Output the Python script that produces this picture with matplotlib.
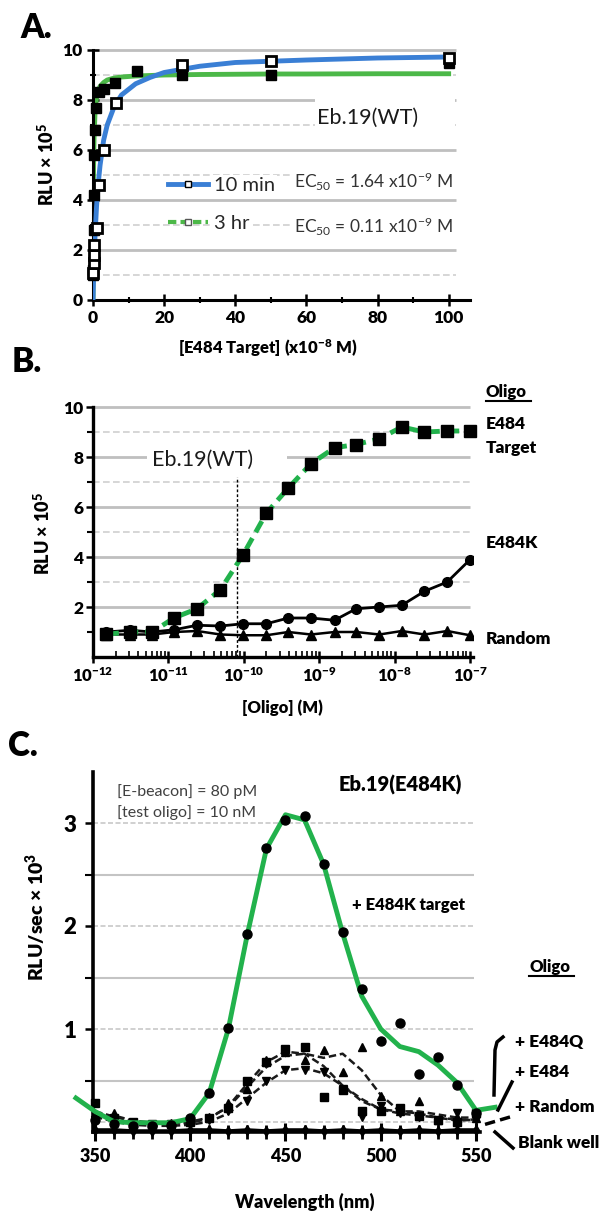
import matplotlib.pyplot as plt
from matplotlib.lines import Line2D
from matplotlib.patches import Rectangle
from matplotlib.ticker import LogLocator, NullFormatter
import numpy as np

plt.rcParams['font.family'] = ['Lato', 'DejaVu Sans']
plt.rcParams['mathtext.fontset'] = 'custom'
plt.rcParams['mathtext.rm'] = 'Lato'
plt.rcParams['mathtext.bf'] = 'Lato:heavy'
plt.rcParams['mathtext.it'] = 'Lato:italic'

W, H = 603, 1215
BLUE = '#3a7fd5'
GREEN_A = '#4cb848'
GREEN = '#22b24c'
GRID = '#bfbfbf'
GRID2 = '#d0d0d0'
BOLD = 'heavy'

# ---- panel A: dose response, linear scale
conc_10min = [0.1, 0.2, 0.3, 0.4, 1.2, 1.8, 3.2, 6.6, 25, 50, 100]
rlu_10min = [1.1, 1.5, 1.8, 2.2, 2.9, 4.6, 6.0, 7.9, 9.4, 9.55, 9.7]
conc_3hr = [0.05, 0.1, 0.15, 0.2, 0.3, 0.4, 0.6, 0.9, 1.6, 3.1, 6.25, 12.5, 25, 50, 100]
rlu_3hr = [1.0, 1.2, 1.6, 2.8, 4.2, 5.8, 6.8, 7.7, 8.3, 8.45, 8.7, 9.15, 9.0, 9.0, 9.5]
fit_x = [0, 0.05, 0.1, 0.2, 0.3, 0.6, 1, 1.5, 2, 3, 4, 6, 8, 12, 16, 20, 30, 40, 50, 60, 80, 100]
fit_10min = [0, 0.3, 0.57, 1.07, 1.5, 2.65, 3.75, 4.7, 5.4, 6.4, 7.0, 7.75, 8.2, 8.65, 8.9, 9.1,
             9.35, 9.5, 9.55, 9.6, 9.68, 9.72]
fit_3hr = [0, 2.8, 4.3, 5.8, 6.5, 7.6, 8.1, 8.4, 8.55, 8.7, 8.8, 8.88, 8.92, 8.96, 8.98, 9.0,
           9.02, 9.03, 9.04, 9.04, 9.05, 9.05]

# ---- panel B: oligo titration, log scale
oligo_conc = [1.5e-12, 3.1e-12, 6.1e-12, 1.2e-11, 2.4e-11, 4.9e-11, 9.8e-11, 2.0e-10, 3.9e-10,
              7.8e-10, 1.6e-9, 3.1e-9, 6.3e-9, 1.25e-8, 2.5e-8, 5e-8, 1e-7]
target_rlu = [0.91, 1.0, 1.0, 1.57, 1.93, 2.69, 4.09, 5.76, 6.76, 7.73, 8.37, 8.5, 8.73, 9.2, 9.0,
              9.04, 9.04]
e484k_rlu = [1.0, 1.07, 1.0, 1.09, 1.27, 1.24, 1.33, 1.33, 1.56, 1.56, 1.47, 1.93, 2.0, 2.07, 2.63,
             3.0, 3.89]
random_rlu = [0.9, 0.9, 0.9, 1.0, 1.04, 0.9, 0.87, 0.87, 1.0, 0.9, 1.0, 1.0, 0.9, 1.04, 0.9, 1.04,
              0.87]
ec50_wt = 8.1e-11

# ---- panel C: emission spectra
wavelength = [350, 360, 370, 380, 390, 400, 410, 420, 430, 440, 450, 460, 470, 480, 490, 500, 510,
              520, 530, 540, 550]
e484k_pts = [0.12, 0.08, 0.06, 0.06, 0.07, 0.14, 0.38, 1.01, 1.92, 2.76, 3.03, 3.07, 2.60, 1.94,
             1.39, 0.88, 1.06, 0.56, 0.73, 0.46, 0.18]
wl_smooth = [340, 350, 360, 370, 380, 390, 400, 410, 420, 430, 440, 450, 460, 470, 480, 490, 500,
             510, 520, 530, 540, 550, 560]
e484k_smooth = [0.33, 0.20, 0.10, 0.09, 0.09, 0.09, 0.13, 0.38, 1.00, 1.92, 2.75, 3.08, 3.03, 2.60,
                1.93, 1.32, 1.00, 0.83, 0.78, 0.65, 0.48, 0.21, 0.24]
e484q_pts = [0.15, 0.18, 0.10, 0.08, 0.09, 0.12, 0.15, 0.28, 0.42, 0.70, 0.78, 0.70, 0.80, 0.58,
             0.83, 0.35, 0.20, 0.30, 0.12, 0.15, 0.14]
e484q_smooth = [0.15, 0.16, 0.11, 0.09, 0.09, 0.10, 0.14, 0.24, 0.44, 0.63, 0.74, 0.76, 0.72, 0.76,
                0.60, 0.36, 0.20, 0.20, 0.17, 0.14, 0.14]
e484_pts = [0.28, 0.14, 0.10, 0.08, 0.08, 0.10, 0.14, 0.23, 0.50, 0.68, 0.81, 0.83, 0.34, 0.41,
            0.20, 0.20, 0.23, 0.16, 0.12, 0.10, 0.18]
e484_smooth = [0.20, 0.15, 0.10, 0.08, 0.08, 0.09, 0.13, 0.25, 0.47, 0.68, 0.78, 0.76, 0.64, 0.45,
               0.30, 0.22, 0.20, 0.18, 0.14, 0.11, 0.12]
rand_pts = [0.12, 0.10, 0.07, 0.06, 0.07, 0.08, 0.12, 0.20, 0.30, 0.50, 0.60, 0.60, 0.58, 0.42,
            0.15, 0.25, 0.18, 0.15, 0.10, 0.18, 0.12]
rand_smooth = [0.15, 0.10, 0.07, 0.06, 0.06, 0.07, 0.10, 0.18, 0.33, 0.48, 0.60, 0.62, 0.57, 0.45,
               0.32, 0.22, 0.18, 0.16, 0.14, 0.12, 0.12]
blank_pts = [0.02, 0.02, 0.01, 0.01, 0.01, 0.02, 0.02, 0.01, 0.02, 0.01, 0.02, 0.02, 0.01, 0.02,
             0.01, 0.02, 0.01, 0.02, 0.01, 0.02, 0.02]

fig = plt.figure(figsize=(W / 100, H / 100), dpi=100)


def px_axes(left, top, right, bottom):
    return fig.add_axes([left / W, 1 - bottom / H, (right - left) / W, (bottom - top) / H])


def ftext(x, y, s, **kw):
    kw.setdefault('ha', 'center')
    kw.setdefault('va', 'center')
    return fig.text(x / W, 1 - y / H, s, **kw)


def fline(xs, ys, **kw):
    fig.add_artist(Line2D(np.array(xs) / W, 1 - np.array(ys) / H, transform=fig.transFigure, **kw))


def style_spines(ax, lw):
    ax.spines['top'].set_visible(False)
    ax.spines['right'].set_visible(False)
    ax.spines['left'].set_linewidth(lw)
    ax.spines['bottom'].set_linewidth(lw)


def bold_ticks(ax):
    for lab in ax.get_xticklabels() + ax.get_yticklabels():
        lab.set_fontweight(BOLD)


# ================= A =================
axA = px_axes(93, 50, 470, 300)
axA.set_xlim(0, 106)
axA.set_ylim(0, 10)
style_spines(axA, 2.2)
axA.hlines([2, 4, 6, 8, 10], 0, 102, colors=GRID, lw=2, zorder=0, clip_on=False)
axA.hlines([1, 3, 5, 7, 9], 0, 102, colors=GRID2, lw=1.2, linestyles=(0, (4, 2)), zorder=0)
axA.add_patch(Rectangle((62.4, 6.6), 39.5, 1.6, fc='white', ec='none', zorder=1))

axA.plot(fit_x, fit_3hr, color=GREEN_A, lw=3.5, zorder=2)
axA.plot(fit_x, fit_10min, color=BLUE, lw=3.5, zorder=3)
axA.plot(conc_3hr, rlu_3hr, 's', color='black', ms=6.5, zorder=5, clip_on=False)
axA.plot(conc_10min, rlu_10min, 's', mfc='white', mec='black', mew=2, ms=7, zorder=6,
         clip_on=False)

h10 = Line2D([], [], color=BLUE, lw=3.5, marker='s', mfc='white', mec='black', ms=5)
h3 = Line2D([], [], color=GREEN_A, lw=3, ls=(0, (2, 1)), marker='s', mfc='white', mec='#555555',
            ms=5)
leg = axA.legend([h10, h3], ['10 min', '3 hr'], loc='center left', bbox_to_anchor=(0.199, 0.382),
                 frameon=False, fontsize=14.5, handlelength=2.0, handletextpad=0.3,
                 labelspacing=1.05, borderpad=0, borderaxespad=0)
for t in leg.get_texts():
    t.set_color('#262626')
    t.set_bbox(dict(fc='white', ec='none', pad=1.5))

axA.text(56.5, 4.72, r'EC$_{50}$ = 1.64 x10$^{-9}$ M', fontsize=12.5, color='#333333',
         va='center', bbox=dict(fc='white', ec='none', pad=3))
axA.text(56.5, 2.92, r'EC$_{50}$ = 0.11 x10$^{-9}$ M', fontsize=12.5, color='#333333',
         va='center', bbox=dict(fc='white', ec='none', pad=3))
axA.text(62.9, 7.28, 'Eb.19(WT)', fontsize=15.5, va='center', color='#1a1a1a', zorder=4)

axA.set_xticks([0, 20, 40, 60, 80, 100])
axA.set_xticks([10, 30, 50, 70, 90], minor=True)
axA.set_yticks([0, 2, 4, 6, 8, 10])
axA.set_yticks([1, 3, 5, 7, 9], minor=True)
axA.tick_params(which='major', direction='inout', length=9, width=1.8, labelsize=12.5, pad=3)
axA.tick_params(which='minor', direction='inout', length=5, width=1.5)
bold_ticks(axA)

ftext(36, 28, 'A.', fontsize=24, fontweight=BOLD)
ftext(47, 164, r'RLU × 10$^{\mathbf{5}}$', fontsize=13, fontweight=BOLD, rotation=90)
ftext(268, 348, r'[E484 Target] (x10$^{\mathbf{-8}}$ M)', fontsize=12, fontweight=BOLD)

# ================= B =================
axB = px_axes(93, 407, 473, 657)
axB.set_xscale('log')
axB.set_xlim(1e-12, 1.1e-7)
axB.set_ylim(0, 10)
style_spines(axB, 2.4)
axB.hlines([2, 4, 6, 8, 10], 1e-12, 1e-7, colors=GRID, lw=2, zorder=0, clip_on=False)
axB.hlines([3, 5, 7, 9], 1e-12, 1e-7, colors=GRID2, lw=1.2, linestyles=(0, (4, 2)), zorder=0)
axB.add_patch(Rectangle((5.2e-12, 7.25), 3.74e-10 - 5.2e-12, 1.4, fc='white', ec='none', zorder=1))
axB.vlines(ec50_wt, 0, 7.2, colors='black', lw=1, linestyles=(0, (2, 1.5)), zorder=2)
axB.text(6.05e-12, 7.88, 'Eb.19(WT)', fontsize=15.5, va='center', color='#1a1a1a', zorder=4)

axB.plot(oligo_conc, random_rlu, '-^', color='black', lw=1.8, ms=7, zorder=3)
axB.plot(oligo_conc, e484k_rlu, '-o', color='black', lw=2, ms=7, zorder=3)
axB.plot(oligo_conc, target_rlu, ls=(0, (2.6, 1.4)), color=GREEN, lw=3.5, marker='s', ms=8,
         mfc='black', mec='black', zorder=4, clip_on=False)

decades = [1e-12, 1e-11, 1e-10, 1e-9, 1e-8, 1e-7]
axB.set_xticks(decades, [r'$\mathbf{10^{-12}}$', r'$\mathbf{10^{-11}}$', r'$\mathbf{10^{-10}}$',
                         r'$\mathbf{10^{-9}}$', r'$\mathbf{10^{-8}}$', r'$\mathbf{10^{-7}}$'])
axB.xaxis.set_minor_locator(LogLocator(base=10, subs=np.arange(2, 10), numticks=50))
axB.xaxis.set_minor_formatter(NullFormatter())
axB.set_yticks([2, 4, 6, 8, 10])
axB.set_yticks([1, 3, 5, 7, 9], minor=True)
axB.tick_params(axis='x', which='major', direction='inout', length=9, width=1.8, labelsize=12,
                pad=2)
axB.tick_params(axis='x', which='minor', direction='in', length=4, width=1.2)
axB.tick_params(axis='y', which='major', direction='out', length=5, width=1.8, labelsize=12.5,
                pad=2)
axB.tick_params(axis='y', which='minor', direction='out', length=4, width=1.5)
bold_ticks(axB)

ftext(27, 362, 'B.', fontsize=24, fontweight=BOLD)
ftext(43, 533, r'RLU × 10$^{\mathbf{5}}$', fontsize=13, fontweight=BOLD, rotation=90)
ftext(282, 708, '[Oligo] (M)', fontsize=12, fontweight=BOLD)
ftext(486, 392, 'Oligo', fontsize=12, fontweight=BOLD, ha='left')
fline([486, 531], [401, 401], color='black', lw=1.5)
ftext(486, 424, 'E484', fontsize=12.5, fontweight=BOLD, ha='left')
ftext(486, 448, 'Target', fontsize=12.5, fontweight=BOLD, ha='left')
ftext(486, 543, 'E484K', fontsize=12.5, fontweight=BOLD, ha='left')
ftext(486, 639, 'Random', fontsize=12.5, fontweight=BOLD, ha='left')

# ================= C =================
axC = px_axes(72.1, 771.5, 506.5, 1132)
axC.set_xlim(338, 566)
axC.set_ylim(0, 3.5)
style_spines(axC, 2.6)
axC.spines['left'].set_position(('data', 349))
axC.spines['bottom'].set_bounds(349, 552)
axC.hlines([0.5, 1.5, 2.5], 349, 549, colors='#c4c4c4', lw=1.5, zorder=0)
axC.hlines([0.1, 1, 2, 3], 349, 549, colors='#c8c8c8', lw=1.2, linestyles=(0, (3, 1.5)), zorder=0)

dash = (0, (3, 1.5))
axC.plot(wavelength, e484q_smooth, color='#1a1a1a', lw=1.8, ls=dash, zorder=2)
axC.plot(wavelength, e484_smooth, color='#1a1a1a', lw=1.8, ls=dash, zorder=2)
axC.plot(wavelength, rand_smooth, color='#1a1a1a', lw=1.8, ls=dash, zorder=2)
axC.plot(wavelength, e484q_pts, '^', color='black', ms=6, zorder=3)
axC.plot(wavelength, e484_pts, 's', color='black', ms=6, zorder=3)
axC.plot(wavelength, rand_pts, 'v', color='black', ms=6, zorder=3)
axC.plot(wavelength, blank_pts, '-d', color='black', lw=2.5, ms=5, zorder=3, clip_on=False)
axC.plot(wl_smooth, e484k_smooth, color=GREEN, lw=3.5, zorder=4)
axC.plot(wavelength, e484k_pts, 'o', color='black', ms=6.5, zorder=5)

axC.set_xticks([350, 400, 450, 500, 550])
axC.set_xticks([w for w in wavelength if w % 50], minor=True)
axC.set_yticks([1, 2, 3])
axC.set_yticks([0.5, 1.5, 2.5], minor=True)
axC.tick_params(axis='x', which='major', direction='inout', length=13, width=2.2, labelsize=13,
                pad=5)
axC.tick_params(axis='x', which='minor', direction='inout', length=10, width=2)
axC.tick_params(axis='y', which='major', direction='out', length=6, width=1.8, labelsize=16, pad=6)
axC.tick_params(axis='y', which='minor', direction='out', length=6, width=1.5)
bold_ticks(axC)

ftext(23, 746, 'C.', fontsize=24, fontweight=BOLD)
ftext(36, 917, r'RLU/sec × 10$^{\mathbf{3}}$', fontsize=14, fontweight=BOLD, rotation=90)
ftext(305, 1202, 'Wavelength (nm)', fontsize=13, fontweight=BOLD)
ftext(117, 792, '[E-beacon] = 80 pM', fontsize=11.5, color='#404040', ha='left')
ftext(117, 813, '[test oligo] = 10 nM', fontsize=11.5, color='#404040', ha='left')
ftext(400, 785, 'Eb.19(E484K)', fontsize=14.5, fontweight=BOLD)
ftext(409, 905, '+ E484K target', fontsize=12, fontweight=BOLD)
ftext(529, 967, 'Oligo', fontsize=12, fontweight=BOLD, ha='left')
fline([529, 574], [976, 976], color='black', lw=1.5)
ftext(515, 1042, '+ E484Q', fontsize=12.5, fontweight=BOLD, ha='left')
ftext(515, 1072, '+ E484', fontsize=12.5, fontweight=BOLD, ha='left')
ftext(515, 1107, '+ Random', fontsize=12.5, fontweight=BOLD, ha='left')
ftext(518, 1143, 'Blank well', fontsize=12.5, fontweight=BOLD, ha='left')
fline([503, 497, 495, 494], [1037, 1042, 1050, 1095], color='black', lw=2.5)
fline([512, 498], [1082, 1110], color='black', lw=2.5)
fline([510, 483], [1117, 1125], color='black', lw=2.5, ls=(0, (3, 1.5)))
fline([495, 513], [1132, 1148], color='black', lw=2.5)

fig.savefig('out.png', dpi=100)
